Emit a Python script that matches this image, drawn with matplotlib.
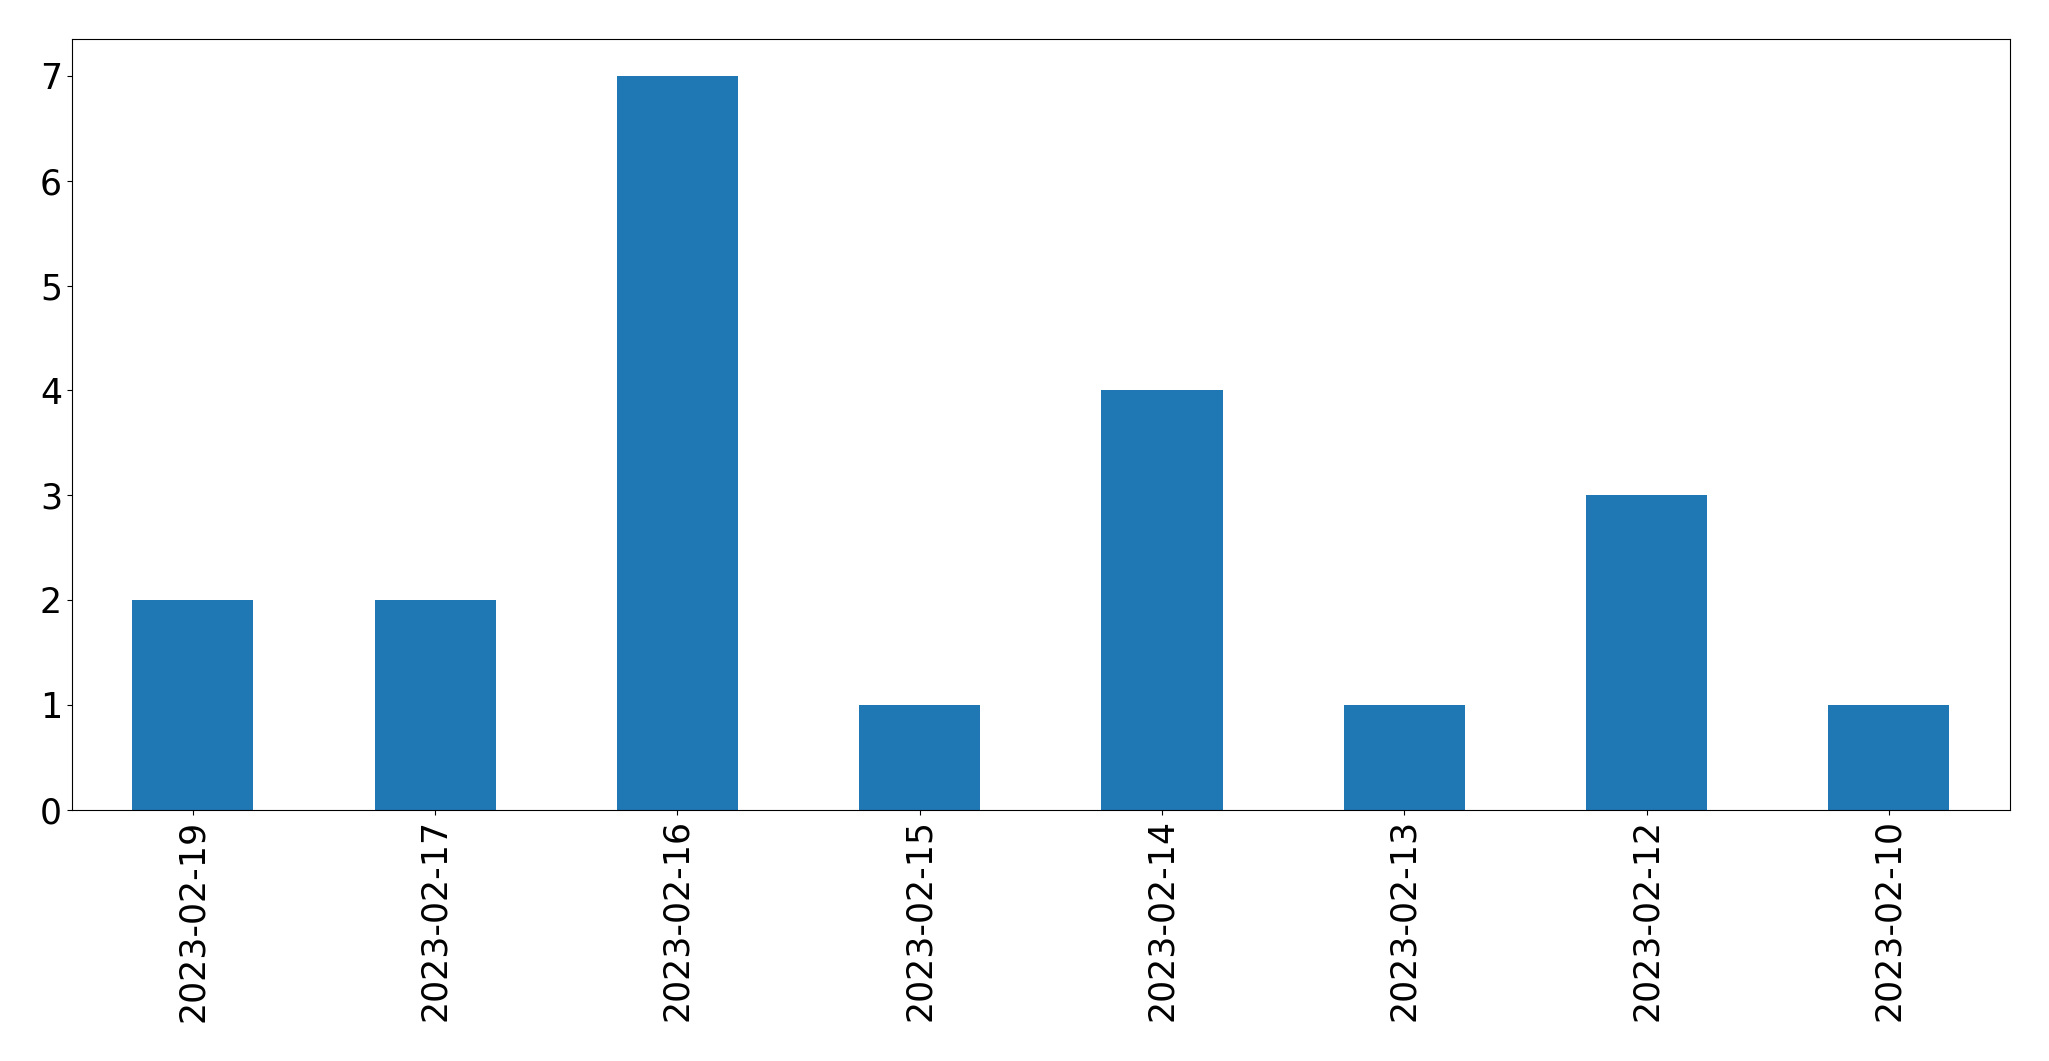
import matplotlib
matplotlib.use("Agg")
import matplotlib.pyplot as plt
import pandas as pd

dates = ["2023-02-19", "2023-02-17", "2023-02-16", "2023-02-15",
         "2023-02-14", "2023-02-13", "2023-02-12", "2023-02-10"]
counts = [2, 2, 7, 1, 4, 1, 3, 1]

s = pd.Series(counts, index=dates)
fig, ax = plt.subplots(figsize=(20.49, 10.61), dpi=100)
s.plot.bar(ax=ax, color="#1f77b4")
ax.tick_params(axis="both", labelsize=25)
fig.subplots_adjust(left=0.035, right=0.981, top=0.963, bottom=0.237)
fig.savefig("out.png", dpi=100)
